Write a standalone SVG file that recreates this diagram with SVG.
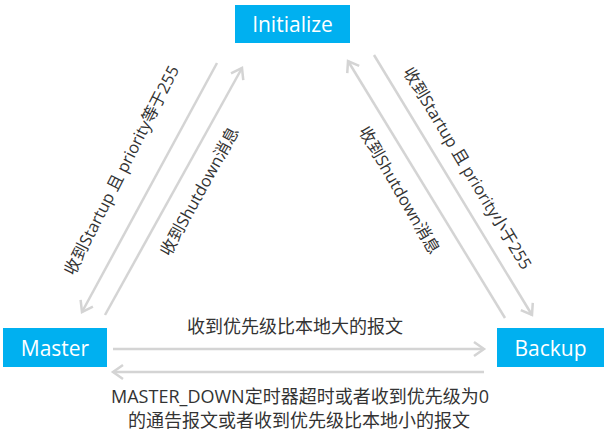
<svg xmlns="http://www.w3.org/2000/svg" width="609" height="432" viewBox="0 0 609 432">
<style>
.box{fill:#00B0F0}
.nt{font-family:"Open Sans","Noto Sans",sans-serif;font-size:21px;fill:#fff;text-anchor:middle;dominant-baseline:central}
.ln{stroke:#D4D4D4;stroke-width:2.5;fill:none;marker-end:url(#ah)}
.lb{font-family:"Open Sans","Noto Sans CJK SC",sans-serif;font-size:16.5px;fill:#333;text-anchor:middle;dominant-baseline:central}
.hl{font-family:"Open Sans","Noto Sans CJK SC",sans-serif;font-size:18px;fill:#333;text-anchor:middle}
</style>
<defs>
<marker id="ah" markerUnits="userSpaceOnUse" markerWidth="20" markerHeight="20" viewBox="-12 -10 14 20" refX="0" refY="0" orient="auto">
<path d="M-10,-7 L0,0 L-10,7" stroke="#D4D4D4" stroke-width="2.5" fill="none"/>
</marker>
</defs>
<rect width="609" height="432" fill="#fff"/>
<g id="connectors">
<line class="ln" x1="217" y1="63" x2="82" y2="312"/>
<line class="ln" x1="105" y1="315" x2="242" y2="68"/>
<line class="ln" x1="505" y1="318" x2="348" y2="61"/>
<line class="ln" x1="374" y1="55" x2="532" y2="315"/>
<line class="ln" x1="113" y1="349" x2="484" y2="349"/>
<line class="ln" x1="484" y1="372" x2="113" y2="372"/>
<text class="lb" transform="translate(121,170) rotate(-63)">收到Startup 且 priority等于255</text>
<text class="lb" transform="translate(199,191) rotate(-61)">收到Shutdown消息</text>
<text class="lb" transform="translate(400,190) rotate(60)">收到Shutdown消息</text>
<text class="lb" transform="translate(468,168) rotate(59)">收到Startup 且 priority小于255</text>
<text class="hl" x="295" y="333">收到优先级比本地大的报文</text>
<text class="hl" x="300" y="403">MASTER_DOWN定时器超时或者收到优先级为0</text>
<text class="hl" x="299" y="427">的通告报文或者收到优先级比本地小的报文</text>
</g>
<g id="initialize">
<rect class="box" x="235" y="5" width="115" height="38"/>
<text class="nt" x="292.5" y="24">Initialize</text>
</g>
<g id="master">
<rect class="box" x="3" y="328" width="104" height="39"/>
<text class="nt" x="55" y="347.5">Master</text>
</g>
<g id="backup">
<rect class="box" x="497" y="328" width="107" height="39"/>
<text class="nt" x="550.5" y="347.5">Backup</text>
</g>
</svg>
